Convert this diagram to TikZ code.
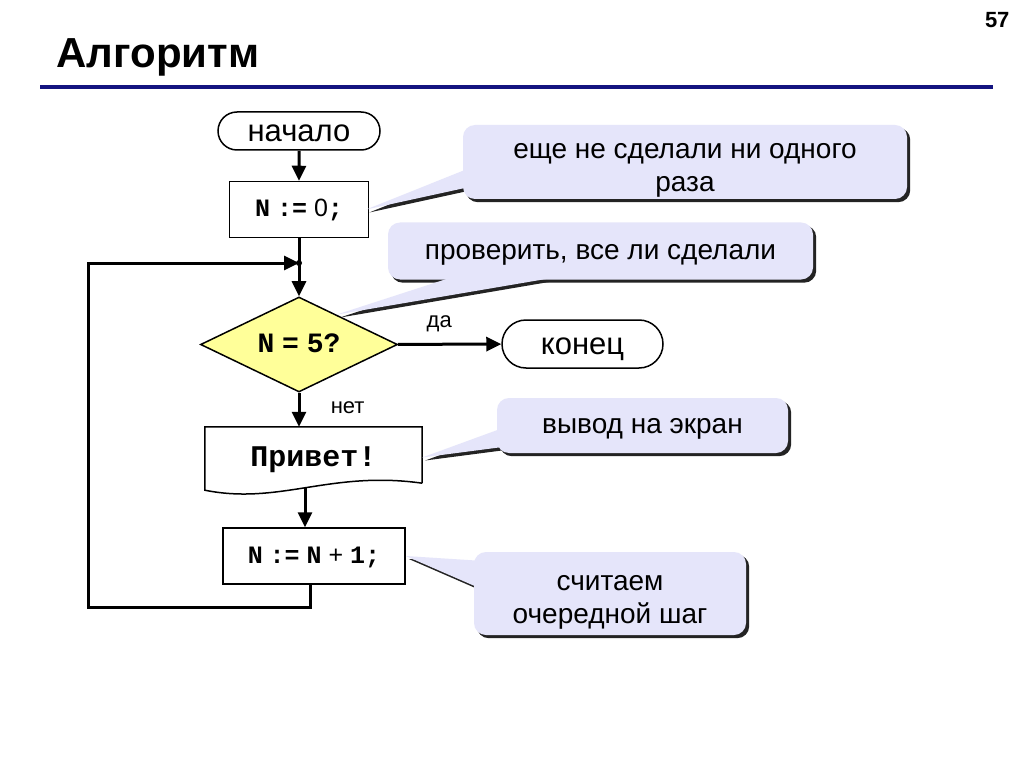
\documentclass[tikz,border=0pt]{standalone}
\usepackage{fontspec}
\setmainfont{Liberation Sans}
\newfontfamily\mono{Liberation Mono}
\usetikzlibrary{arrows.meta,shapes.geometric,shapes.misc,backgrounds,calc}

\definecolor{askyellow}{RGB}{255,255,153}
\definecolor{bubblefill}{RGB}{229,229,250}
\definecolor{bubbleshade}{RGB}{35,35,35}
\definecolor{rulecolor}{RGB}{20,20,128}

\begin{document}
\begin{tikzpicture}[x=1pt,y=-1pt,
  term/.style={rounded rectangle, draw, line width=1.5pt, inner sep=2pt,
    minimum width=166pt, minimum height=38pt, text height=21pt, text depth=0pt,
    font=\fontsize{31}{31}\selectfont},
  proc/.style={rectangle, draw, line width=1.5pt, minimum height=56pt,
    text height=15pt, text depth=0pt, font=\fontsize{25}{25}\selectfont},
  ask/.style={diamond, aspect=2, draw, line width=1.5pt, fill=askyellow, inner sep=0pt,
    minimum width=197pt, minimum height=95pt, text height=16pt, text depth=0pt,
    font=\fontsize{28}{28}\selectfont},
  flow/.style={line width=3pt, -{Triangle[length=15pt,width=14pt]}},
  bubble/.style={rounded corners=12pt, fill=bubblefill, align=center,
    text height=16pt, text depth=0pt, font=\fontsize{28}{33}\selectfont},
  twoline/.style={text height=59pt},
  lbl/.style={font=\fontsize{22}{22}\selectfont}
]

\useasboundingbox (0,0) rectangle (1024,767);

% heading
\node[anchor=base west, font=\fontsize{42}{42}\selectfont\bfseries] (title) at (53,68) {Алгоритм};
\node[anchor=base east, font=\fontsize{22}{22}\selectfont\bfseries] (page) at (1013,28) {57};
\draw[rulecolor, line width=4.5pt] (40,87) -- (993,87);

% flowchart
\node[term] (start) at (299,131) {начало};
\node[proc, minimum width=139pt] (n0) at (299,209.5)
  {{\mono\bfseries N} {\mono\bfseries :=} 0{\mono\bfseries ;}};
\coordinate (j) at (299,263);
\node[ask] (dia) at (299,344.5) {{\mono\bfseries N} {\mono\bfseries =} {\mono\bfseries 5?}};
\node[term, minimum width=165pt, minimum height=48pt] (fin) at (582.5,344) {конец};
\node[minimum width=217pt, minimum height=61pt, text height=18pt, text depth=0pt] (doc) at (313.5,457.5)
  {\fontsize{30}{30}\selectfont\mono\bfseries Привет!};
\draw[line width=1.5pt] ($(doc.south east)+(0,-5)$) -- (doc.north east) -- (doc.north west)
  -- ($(doc.south west)+(0,2)$) .. controls +(75,15) and +(-92,-13) .. ($(doc.south east)+(0,-5)$);
\node[proc, minimum width=182pt] (inc) at (314,556)
  {{\mono\bfseries N} {\mono\bfseries :=} {\mono\bfseries N} + {\mono\bfseries 1;}};
\coordinate (lp) at (88,607);

\draw[flow] (start) -- (n0);
\draw[flow] (n0) -- (dia);
\draw[flow] (dia) -- (fin) node[pos=0.4, above=8pt, lbl] {да};
\draw[flow] (dia.south) -- (dia.south |- doc.north) node[midway, right=27pt, yshift=2pt, lbl] {нет};
\draw[flow] ([xshift=-8.5pt]doc.south) -- ([xshift=-8.5pt]doc.south |- inc.north);
\draw[flow] ([xshift=-4pt]inc.south) |- (lp) |- (j);
\fill (j) circle (3pt);

% comments
\node[bubble, twoline, minimum width=444pt, minimum height=74pt] (c1) at (685,162) {еще не сделали ни одного\\раза};
\node[bubble, minimum width=425pt, minimum height=57pt] (c2) at (600.5,251) {проверить, все ли сделали};
\node[bubble, minimum width=291pt, minimum height=55pt] (c3) at (642.5,425.5) {вывод на экран};
\node[bubble, twoline, minimum width=272pt, minimum height=83pt] (c4) at (610,593.5) {считаем\\очередной шаг};

\coordinate (t2) at ($(dia.north)!0.38!(dia.east)$);
\fill[bubblefill] ($(c1.west)+(2,8)$) -- ([xshift=-3pt]n0.east) -- ($(c1.west)+(2,26)$) -- cycle;
\fill[bubblefill] ($(c2.south)+(-150,-2)$) -- (t2) -- ($(c2.south)+(-47,-2)$) -- cycle;
\fill[bubblefill] ($(c3.west)+(2,4)$) -- (doc.east) -- ($(c3.west)+(2,22)$) -- cycle;
\fill[bubblefill] ($(c4.west)+(2,-33)$) -- (inc.east) -- ($(c4.west)+(2,-7)$) -- cycle;

\begin{scope}[on background layer]
  \fill[white] (0,0) rectangle (1024,767);
  \foreach \c in {c1,c2,c3,c4}
    \fill[bubbleshade, rounded corners=12pt] ([xshift=3pt,yshift=-3pt]\c.south west)
      rectangle ([xshift=3pt,yshift=-3pt]\c.north east);
  \fill[bubbleshade] ($(c1.west)+(5,11)$) -- ([xshift=0pt,yshift=-3pt]n0.east) -- ($(c1.west)+(5,29)$) -- cycle;
  \fill[bubbleshade] ($(c2.south)+(-147,1)$) -- ($(t2)+(3,3)$) -- ($(c2.south)+(-44,1)$) -- cycle;
  \fill[bubbleshade] ($(c3.west)+(5,7)$) -- ([xshift=3pt,yshift=-3pt]doc.east) -- ($(c3.west)+(5,25)$) -- cycle;
  \fill[bubbleshade] ($(c4.west)+(5,-30)$) -- ([xshift=3pt,yshift=-3pt]inc.east) -- ($(c4.west)+(5,-4)$) -- cycle;
\end{scope}

\end{tikzpicture}
\end{document}
